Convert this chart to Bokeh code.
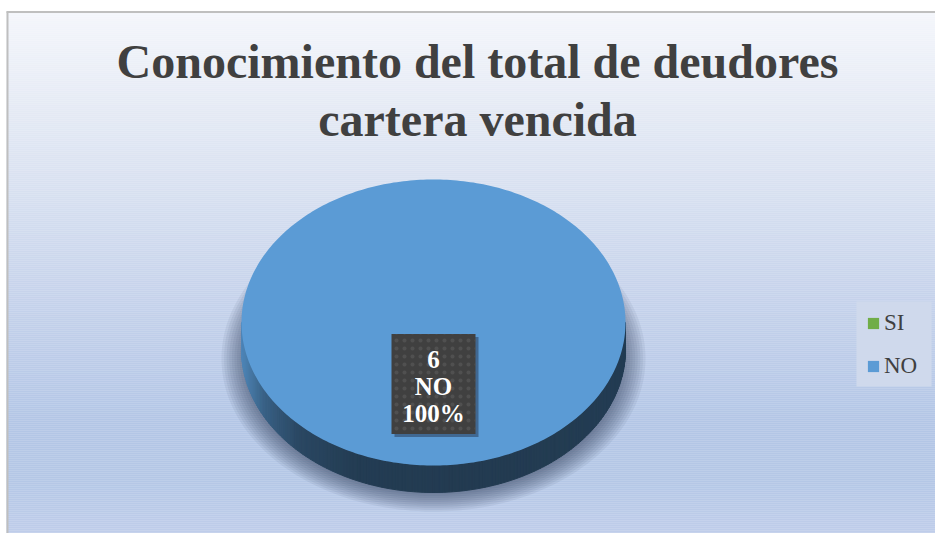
import numpy as np
from bokeh.plotting import figure
from bokeh.models import Range1d, Legend, LegendItem
from bokeh.core.properties import value
from bokeh.embed import file_html
from bokeh.resources import INLINE

# ---------------- data ----------------
title_lines = ["Conocimiento del total de deudores", "cartera vencida"]
categories = ["SI", "NO"]
counts = [0, 6]
slice_colors = ["#70ad47", "#5b9bd5"]

# ---------------- layout / style ----------------
W, H = 935, 533
X0, Y0 = 0, 0
CX, CY, RX, RY, DEPTH = 433, 322, 192, 143, 27
FONT = "Liberation Serif"

p = figure(width=W, height=H, x_range=Range1d(X0, X0 + W), y_range=Range1d(Y0 + H, Y0),
           output_backend="svg", toolbar_location=None, min_border=0,
           x_axis_location=None, y_axis_location=None, outline_line_color=None,
           background_fill_color="white", border_fill_color="white")
p.grid.grid_line_color = None


def hex2rgb(h):
    h = h.lstrip("#")
    return np.array([int(h[i:i + 2], 16) for i in (0, 2, 4)], dtype=float)


def rgb2hex(c):
    c = np.clip(np.round(c), 0, 255).astype(int)
    return "#%02x%02x%02x" % tuple(c)


# background gradient
stops_y = [11, 100, 200, 300, 420, 480, 533]
stops_c = ["#f4f6fb", "#e6ebf5", "#d6dff0", "#c5d2eb", "#b3c6e6", "#b4c7e6", "#bfcdea"]
sc = np.array([hex2rgb(c) for c in stops_c])
ys = np.arange(12, 533, 2.0)
bg_cols = []
for y in ys:
    c = np.array([np.interp(y + 1, stops_y, sc[:, k]) for k in range(3)])
    bg_cols.append(rgb2hex(c))
p.quad(left=6, right=X0 + W, top=ys, bottom=ys + 2.2, fill_color=bg_cols, line_color=None)

# frame border
p.segment(x0=[6, 7], y0=[11.5, 11], x1=[X0 + W, 7], y1=[11.5, Y0 + H],
          line_color="#bfbfbf", line_width=2)

# legend box background
p.quad(left=856, right=931, top=301, bottom=386, fill_color="#cfd9ec", line_color=None)

# shadow under the pie
t = np.linspace(0, 2 * np.pi, 200)
for k in range(10):
    rx = RX + 20 - 2.6 * k
    ry = RY + 10 - 2.0 * k
    p.patch(x=CX + rx * np.cos(t), y=CY + 36 + ry * np.sin(t),
            fill_color="#2a3550", fill_alpha=0.07, line_color=None)

total = float(sum(counts))
start = -np.pi / 2
angles = []
for v in counts:
    a0 = start
    a1 = start + 2 * np.pi * v / total
    angles.append((a0, a1))
    start = a1

# side (visible front half) with horizontal shading
fx = [0.0, 0.06, 0.15, 0.3, 0.6, 1.0]
ff = [0.86, 0.62, 0.46, 0.39, 0.38, 0.39]
for (a0, a1), col in zip(angles, slice_colors):
    lo, hi = max(a0, 0.0), min(a1, np.pi)
    if hi <= lo:
        continue
    th = np.linspace(lo, hi, 180)
    base = hex2rgb(col)
    xs_list, ys_list, cols = [], [], []
    for ta, tb in zip(th[:-1], th[1:]):
        xa, xb = CX + RX * np.cos(ta), CX + RX * np.cos(tb)
        ya, yb = CY + RY * np.sin(ta), CY + RY * np.sin(tb)
        xs_list.append([xa, xb, xb, xa])
        ys_list.append([ya, yb, yb + DEPTH, ya + DEPTH])
        tpos = ((xa + xb) / 2 - (CX - RX)) / (2 * RX)
        cols.append(rgb2hex(base * np.interp(tpos, fx, ff)))
    p.patches(xs=xs_list, ys=ys_list, fill_color=cols, line_color=cols, line_width=1)

# top surface slices
slice_renderers = []
for (a0, a1), col in zip(angles, slice_colors):
    th = np.linspace(a0, a1, 361)
    xs = np.concatenate([[CX], CX + RX * np.cos(th)])
    yv = np.concatenate([[CY], CY + RY * np.sin(th)])
    r = p.patch(x=xs, y=yv, fill_color=col, line_color=None)
    slice_renderers.append(r)

# data labels
BW, BH, LS = 84, 100, 27
for (a0, a1), cat, v in zip(angles, categories, counts):
    if v == 0:
        continue
    mid = (a0 + a1) / 2
    lx = CX + 0.43 * RX * np.cos(mid)
    ly = CY + 0.43 * RY * np.sin(mid)
    p.quad(left=lx - BW / 2 + 3, right=lx + BW / 2 + 3, top=ly - BH / 2 + 3, bottom=ly + BH / 2 + 3,
           fill_color="#1e2b40", fill_alpha=0.45, line_color=None)
    p.quad(left=lx - BW / 2, right=lx + BW / 2, top=ly - BH / 2, bottom=ly + BH / 2,
           fill_color="#404040", line_color=None,
           hatch_pattern="dot", hatch_color="#5a5a5a", hatch_scale=8, hatch_weight=1.5, hatch_alpha=0.6)
    lines = [str(v), cat, "%d%%" % round(100 * v / total)]
    p.text(x=[lx] * 3, y=[ly - LS + 3, ly + 3, ly + LS + 3], text=lines,
           text_font=value(FONT), text_font_style="bold", text_font_size="25px",
           text_color="white", text_align="center", text_baseline="middle")

# title
p.text(x=[477, 477], y=[61, 119], text=title_lines,
       text_font=value(FONT), text_font_style="bold", text_font_size="48px",
       text_color="#404040", text_align="center", text_baseline="middle")

legend = Legend(items=[LegendItem(label=c, renderers=[r]) for c, r in zip(categories, slice_renderers)],
                location=(866, 154), orientation="vertical",
                glyph_width=14, glyph_height=14, label_standoff=4, spacing=16,
                padding=0, margin=0, label_height=27,
                label_text_font=FONT, label_text_font_size="23px", label_text_color="#404040",
                background_fill_alpha=0.0, border_line_color=None)
p.add_layout(legend)

open("out.html", "w").write(file_html(p, INLINE))
